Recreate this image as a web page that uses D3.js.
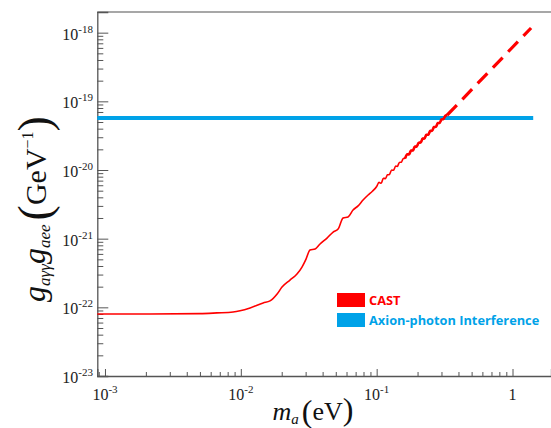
<!DOCTYPE html>
<html><head><meta charset="utf-8">
<script src="https://cdn.jsdelivr.net/npm/d3@7"></script>
<style>body{margin:0;background:#fff}svg{display:block}</style>
</head><body><svg id="c" width="551" height="428"></svg>
<script>
// ---- data ----
const xTickValues = [1e-3, 1e-2, 1e-1, 1];
const xTickExps = ["-3", "-2", "-1", null];
const yTickValues = [1e-23, 1e-22, 1e-21, 1e-20, 1e-19, 1e-18];
const yTickExps = ["-23", "-22", "-21", "-20", "-19", "-18"];
// CAST limit (solid): mass (eV), coupling product (GeV^-1)
const castMass = [0.000878, 0.00214, 0.0050, 0.00668, 0.00877, 0.00987, 0.0117, 0.0146, 0.0164, 0.0185, 0.0201, 0.0230, 0.0259, 0.0282, 0.0302, 0.0323, 0.0352, 0.0383, 0.0431, 0.0478, 0.0520, 0.0566, 0.0616, 0.0670, 0.0730, 0.0794, 0.0865, 0.0930,
  0.100, 0.104, 0.108, 0.112, 0.116, 0.120, 0.124, 0.129, 0.133, 0.138, 0.142, 0.147, 0.152, 0.157, 0.162, 0.168, 0.173, 0.179, 0.185, 0.191, 0.197, 0.204, 0.211, 0.218, 0.225, 0.232, 0.240, 0.248, 0.256, 0.264, 0.273, 0.282, 0.291, 0.300, 0.310, 0.320, 0.330];
const castG = [8.0e-23, 8.0e-23, 8.1e-23, 8.3e-23, 8.55e-23, 8.9e-23, 9.8e-23, 1.16e-22, 1.24e-22, 1.56e-22, 1.97e-22, 2.49e-22, 3.05e-22, 3.86e-22, 5.05e-22, 6.83e-22, 7.07e-22, 8.36e-22, 1.02e-21, 1.25e-21, 1.38e-21, 2.0e-21, 2.07e-21, 2.61e-21, 3.0e-21, 3.65e-21, 4.32e-21, 4.9e-21,
  5.75e-21, 6.6e-21, 6.4e-21, 7.6e-21, 7.5e-21, 8.5e-21, 8.6e-21, 1.0e-20, 9.9e-21, 1.14e-20, 1.13e-20, 1.29e-20, 1.30e-20, 1.47e-20, 1.48e-20, 1.70e-20, 1.68e-20, 1.92e-20, 1.93e-20, 2.19e-20, 2.19e-20, 2.50e-20, 2.51e-20, 2.86e-20, 2.87e-20, 3.25e-20, 3.27e-20, 3.71e-20, 3.72e-20, 4.22e-20, 4.26e-20, 4.82e-20, 4.85e-20, 5.45e-20, 5.52e-20, 6.15e-20, 6.3e-20];
// CAST extrapolation (dashed)
const castExtMass = [0.330, 1.37];
const castExtG = [6.3e-20, 1.17e-18];
// Axion-photon interference (horizontal)
const apiMass = [0.000878, 1.42];
const apiG = [5.73e-20, 5.73e-20];
const legendLabels = ["CAST", "Axion-photon Interference"];
const legendColors = ["#ff0000", "#00a2e8"];

// ---- chart ----
const svg = d3.select("#c");
const L = 97.3, R = 551, T = 12, B = 376;
const x = d3.scaleLog().domain([0.000878, 1.92]).range([L, R]);
const y = d3.scaleLog().domain([1e-23, 2.0e-18]).range([B, T]);

// frame
svg.append("line").attr("x1", L).attr("x2", R).attr("y1", T).attr("y2", T).attr("stroke", "#8a8a8a").attr("stroke-width", 1.5);

// minor ticks lists
const xMinor = [], yMinor = [];
for (let e = -4; e <= 0; e++) for (let k = 2; k <= 9; k++) { const v = k * Math.pow(10, e); if (v >= 0.000878 && v <= 1.92) xMinor.push(v); }
for (let e = -23; e <= -18; e++) for (let k = 2; k <= 9; k++) { const v = k * Math.pow(10, e); if (v <= 2.0e-18) yMinor.push(v); }

const gx = svg.append("g").attr("transform", `translate(0,${B})`);
gx.call(d3.axisBottom(x).tickValues(xTickValues).tickSize(-7).tickFormat(""));
const gxm = svg.append("g").attr("transform", `translate(0,${B})`);
gxm.call(d3.axisBottom(x).tickValues(xMinor).tickSize(-4).tickFormat(""));
const gy = svg.append("g").attr("transform", `translate(${L},0)`);
gy.call(d3.axisLeft(y).tickValues(yTickValues).tickSize(-11).tickFormat(""));
const gym = svg.append("g").attr("transform", `translate(${L},0)`);
gym.call(d3.axisLeft(y).tickValues(yMinor).tickSize(-6).tickFormat(""));
[gx, gxm, gy, gym].forEach(g => { g.selectAll("path").attr("stroke", "#555").attr("stroke-width", 1.3); g.selectAll("line").attr("stroke", "#555").attr("stroke-width", 1); });
gxm.select("path").remove(); gym.select("path").remove();

const serif = "'Liberation Serif','Times New Roman',serif";
// x tick labels
xTickValues.forEach((v, i) => {
  const t = svg.append("text").attr("x", x(v)).attr("y", 400).attr("text-anchor", "middle")
    .attr("font-family", serif).attr("font-size", 16).attr("fill", "#222");
  t.append("tspan").text(xTickExps[i] === null ? "1" : "10");
  if (xTickExps[i] !== null) t.append("tspan").attr("dy", -7).attr("font-size", 11).text(xTickExps[i]);
});
// y tick labels
yTickValues.forEach((v, i) => {
  const t = svg.append("text").attr("x", 93).attr("y", y(v) + 7).attr("text-anchor", "end")
    .attr("font-family", serif).attr("font-size", 16).attr("fill", "#222");
  t.append("tspan").text("10");
  t.append("tspan").attr("dy", -7).attr("font-size", 11).text(yTickExps[i]);
});

// axis titles
const xt = svg.append("text").attr("x", 313).attr("y", 420).attr("text-anchor", "middle").attr("font-family", serif).attr("fill", "#111");
xt.append("tspan").attr("font-size", 26).attr("font-style", "italic").text("m");
xt.append("tspan").attr("font-size", 15).attr("font-style", "italic").attr("dy", 4).text("a");
xt.append("tspan").attr("font-size", 32).attr("dy", -2).attr("dx", 3).text("(");
xt.append("tspan").attr("font-size", 26).attr("dy", -2).text("eV");
xt.append("tspan").attr("font-size", 32).attr("dy", 0).text(")");

const yt = svg.append("text").attr("transform", "translate(45,209) rotate(-90)").attr("text-anchor", "middle").attr("font-family", serif).attr("fill", "#111");
yt.append("tspan").attr("font-size", 32).attr("font-style", "italic").text("g");
yt.append("tspan").attr("font-size", 17).attr("font-style", "italic").attr("dy", 5).text("aγγ");
yt.append("tspan").attr("font-size", 32).attr("font-style", "italic").attr("dy", -5).text("g");
yt.append("tspan").attr("font-size", 17).attr("font-style", "italic").attr("dy", 5).text("aee");
yt.append("tspan").attr("font-size", 46).attr("dy", 0).attr("dx", 4).text("(");
yt.append("tspan").attr("font-size", 30).attr("dy", -4).text("GeV");
yt.append("tspan").attr("font-size", 16).attr("dy", -13).text("−1");
yt.append("tspan").attr("font-size", 46).attr("dy", 17).text(")");

// lines
const line = d3.line().x(d => x(d[0])).y(d => y(d[1])).curve(d3.curveMonotoneX);
svg.append("path").datum(d3.zip(apiMass, apiG)).attr("d", line).attr("fill", "none").attr("stroke", legendColors[1]).attr("stroke-width", 4);
const castPts = d3.zip(castMass, castG);
svg.append("path").datum(castPts).attr("d", line).attr("fill", "none").attr("stroke", legendColors[0]).attr("stroke-width", 1.6).attr("stroke-linejoin", "round");
svg.append("path").datum(castPts.filter(d => d[0] >= 0.16)).attr("d", line).attr("fill", "none").attr("stroke", legendColors[0]).attr("stroke-width", 2.6).attr("stroke-linejoin", "round");
svg.append("path").datum(d3.zip(castExtMass, castExtG)).attr("d", line).attr("fill", "none").attr("stroke", legendColors[0]).attr("stroke-width", 3.2).attr("stroke-dasharray", "14,8");

// legend
legendLabels.forEach((lab, i) => {
  const yy = 293 + i * 20;
  svg.append("rect").attr("x", 337).attr("y", yy).attr("width", 28).attr("height", 14).attr("fill", legendColors[i]);
  svg.append("text").attr("x", 369).attr("y", yy + 11.5).attr("font-family", "'Open Sans',sans-serif").attr("font-weight", 700)
    .attr("font-size", 12.8).attr("fill", legendColors[i]).text(lab);
});
</script></body></html>
